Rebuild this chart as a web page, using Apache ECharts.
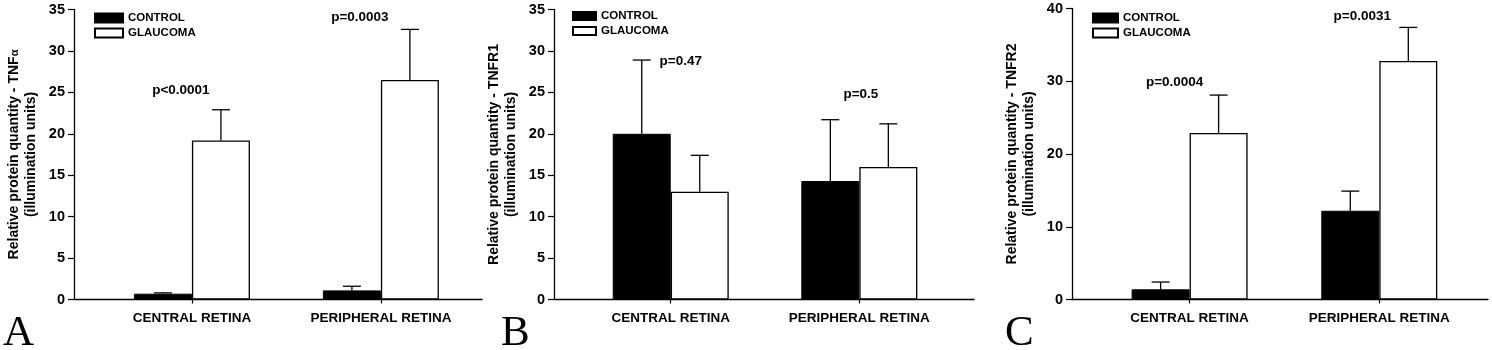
<!DOCTYPE html>
<html>
<head>
<meta charset="utf-8">
<title>Retinal TNF protein levels</title>
<script src="https://cdn.jsdelivr.net/npm/echarts@6/dist/echarts.min.js"></script>
<style>
  html, body { margin: 0; padding: 0; background: #fff; }
  #chart { width: 1492px; height: 350px; }
</style>
</head>
<body>
<div id="chart"></div>
<script>
// Groups on the x axis and the two study arms
const categories = ['CENTRAL RETINA', 'PERIPHERAL RETINA'];
const groupNames = ['CONTROL', 'GLAUCOMA'];

// Panel A - TNFα (mean and upper error)
const tnfaControl = [0.7, 1.1];
const tnfaControlErr = [0.1, 0.5];
const tnfaGlaucoma = [19.2, 26.5];
const tnfaGlaucomaErr = [3.7, 6.1];
const tnfaPValues = ['p<0.0001', 'p=0.0003'];

// Panel B - TNFR1
const tnfr1Control = [20.0, 14.3];
const tnfr1ControlErr = [8.9, 7.4];
const tnfr1Glaucoma = [13.0, 16.0];
const tnfr1GlaucomaErr = [4.4, 5.2];
const tnfr1PValues = ['p=0.47', 'p=0.5'];

// Panel C - TNFR2
const tnfr2Control = [1.4, 12.2];
const tnfr2ControlErr = [1.0, 2.7];
const tnfr2Glaucoma = [22.9, 32.8];
const tnfr2GlaucomaErr = [5.2, 4.6];
const tnfr2PValues = ['p=0.0004', 'p=0.0031'];

// Y axis tick settings
const tnfaTicks = { max: 35, step: 5 };
const tnfr1Ticks = { max: 35, step: 5 };
const tnfr2Ticks = { max: 40, step: 10 };

const SANS = '"Liberation Sans", Arial, sans-serif';
const SERIF = '"Liberation Serif", "Times New Roman", serif';
const BAR_W = 58;
const CAP_W = 18;

const panels = [
  {
    letter: 'A', target: 'TNF{g|α}',
    control: tnfaControl, controlErr: tnfaControlErr,
    glaucoma: tnfaGlaucoma, glaucomaErr: tnfaGlaucomaErr,
    pValues: tnfaPValues, ticks: tnfaTicks,
    layout: {
      grid: { left: 74, width: 408, top: 9.5, bottom: 50.5 },
      xRange: [-0.624, 1.535],
      legend: { left: 94, top: 11, w: 28, h: 9 },
      letterLeft: 3,
      pShift: [[-11, -19], [-21, -12]]
    }
  },
  {
    letter: 'B', target: 'TNFR1',
    control: tnfr1Control, controlErr: tnfr1ControlErr,
    glaucoma: tnfr1Glaucoma, glaucomaErr: tnfr1GlaucomaErr,
    pValues: tnfr1PValues, ticks: tnfr1Ticks,
    layout: {
      grid: { left: 554, width: 420, top: 9.5, bottom: 50.5 },
      xRange: [-0.619, 1.608],
      legend: { left: 572, top: 9, w: 23, h: 8 },
      letterLeft: 501,
      pShift: [[10, 1], [1.5, -25]]
    }
  },
  {
    letter: 'C', target: 'TNFR2',
    control: tnfr2Control, controlErr: tnfr2ControlErr,
    glaucoma: tnfr2Glaucoma, glaucomaErr: tnfr2GlaucomaErr,
    pValues: tnfr2PValues, ticks: tnfr2Ticks,
    layout: {
      grid: { left: 1072, width: 416, top: 8.5, bottom: 50.5 },
      xRange: [-0.62, 1.573],
      legend: { left: 1092, top: 11, w: 25, h: 9 },
      letterLeft: 1005,
      pShift: [[-15, -13], [-17, -11]]
    }
  }
];

const grid = [], xAxis = [], yAxis = [], legend = [], title = [], series = [];

function errorBarSeries(idx, name, means, errs, shift) {
  return {
    type: 'custom',
    name: name + ' error',
    xAxisIndex: idx, yAxisIndex: idx,
    z: 5, silent: true, clip: false,
    data: means.map((m, k) => [k, m, errs[k]]),
    renderItem: function (params, api) {
      const cat = api.value(0), mean = api.value(1), err = api.value(2);
      const base = api.coord([cat, mean]);
      const top = api.coord([cat, mean + err]);
      const x = base[0] + shift;
      const st = { stroke: '#000', lineWidth: 1.3 };
      return {
        type: 'group',
        children: [
          { type: 'line', shape: { x1: x, y1: base[1], x2: x, y2: top[1] }, style: st },
          { type: 'line', shape: { x1: x - CAP_W / 2, y1: top[1], x2: x + CAP_W / 2, y2: top[1] }, style: st }
        ]
      };
    }
  };
}

panels.forEach((p, i) => {
  const L = p.layout;
  grid.push(Object.assign({ containLabel: false }, L.grid));

  xAxis.push({
    type: 'value', gridIndex: i,
    min: L.xRange[0], max: L.xRange[1],
    axisLine: { show: true, onZero: false, lineStyle: { color: '#000', width: 1.3 } },
    axisTick: { show: true, customValues: [0, 1], length: 4, lineStyle: { color: '#000', width: 1.2 } },
    axisLabel: {
      customValues: [0, 1], margin: 12,
      formatter: v => categories[Math.round(v)],
      fontFamily: SANS, fontWeight: 'bold', fontSize: 13.5, color: '#000'
    },
    splitLine: { show: false }
  });

  yAxis.push({
    type: 'value', gridIndex: i,
    min: 0, max: p.ticks.max, interval: p.ticks.step,
    name: 'Relative protein quantity - ' + p.target + '\n(illumination units)',
    nameLocation: 'middle', nameGap: 34,
    nameTextStyle: {
      fontFamily: SANS, fontWeight: 'bold', fontSize: 14, color: '#000', lineHeight: 17,
      rich: { g: { fontFamily: SANS, fontWeight: 'bold', fontSize: 11, color: '#000', lineHeight: 17 } }
    },
    axisLine: { show: true, onZero: false, lineStyle: { color: '#000', width: 1.3 } },
    axisTick: { show: true, length: 6, lineStyle: { color: '#000', width: 1.2 } },
    axisLabel: { margin: 9, fontFamily: SANS, fontWeight: 'bold', fontSize: 14.5, color: '#000' },
    splitLine: { show: false }
  });

  legend.push({
    orient: 'vertical', left: L.legend.left, top: L.legend.top, padding: 0,
    itemWidth: L.legend.w, itemHeight: L.legend.h, itemGap: 1,
    icon: 'rect', selectedMode: false,
    data: groupNames,
    textStyle: { fontFamily: SANS, fontWeight: 'bold', fontSize: 11.5, color: '#000', lineHeight: 14 }
  });

  title.push({
    text: p.letter, left: L.letterLeft, top: 312, padding: 0,
    textStyle: { fontFamily: SERIF, fontWeight: 'normal', fontSize: 43, color: '#000' }
  });

  series.push({
    type: 'bar', name: groupNames[0], xAxisIndex: i, yAxisIndex: i,
    barWidth: BAR_W, barGap: '0%', silent: true,
    itemStyle: { color: '#000', borderColor: '#000', borderWidth: 1 },
    data: p.control.map((v, k) => [k, v])
  });
  series.push({
    type: 'bar', name: groupNames[1], xAxisIndex: i, yAxisIndex: i,
    barWidth: BAR_W, barGap: '0%', silent: true,
    itemStyle: { color: '#fff', borderColor: '#000', borderWidth: 1.3 },
    data: p.glaucoma.map((v, k) => [k, v])
  });
  series.push(errorBarSeries(i, groupNames[0], p.control, p.controlErr, -BAR_W / 2));
  series.push(errorBarSeries(i, groupNames[1], p.glaucoma, p.glaucomaErr, BAR_W / 2));

  // significance labels above each group, anchored at the higher whisker
  const whiskerTop = p.control.map((v, k) =>
    Math.max(v + p.controlErr[k], p.glaucoma[k] + p.glaucomaErr[k]));
  series.push({
    type: 'custom', name: 'p-values', xAxisIndex: i, yAxisIndex: i,
    z: 6, silent: true, clip: false,
    data: whiskerTop.map((t, k) => [k, t]),
    renderItem: function (params, api) {
      const k = params.dataIndex;
      const pt = api.coord([api.value(0), api.value(1)]);
      return {
        type: 'text',
        style: {
          x: pt[0] + L.pShift[k][0], y: pt[1] + L.pShift[k][1],
          text: p.pValues[k], align: 'center', verticalAlign: 'middle',
          fontFamily: SANS, fontWeight: 'bold', fontSize: 13.5, fill: '#000'
        }
      };
    }
  });
});

const chart = echarts.init(document.getElementById('chart'), null, { renderer: 'canvas' });
chart.setOption({
  backgroundColor: '#fff',
  animation: false,
  title, grid, xAxis, yAxis, legend, series
});
</script>
</body>
</html>
